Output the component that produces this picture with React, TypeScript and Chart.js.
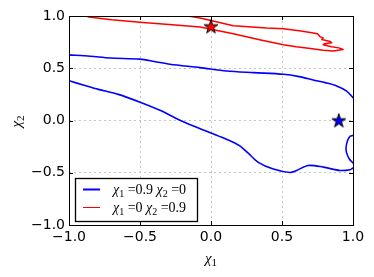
import React, { useEffect, useRef } from "react";
import { Chart, registerables } from "chart.js";

Chart.register(...registerables);

const xTickValues = [-1, -0.5, 0, 0.5, 1];
const yTickValues = [-1, -0.5, 0, 0.5, 1];

const blueUpperX = [-1, -0.85, -0.71, -0.5, -0.4, -0.289, -0.077, 0.11, 0.3, 0.51, 0.62, 0.72, 0.81, 0.885, 0.955, 1.0];
const blueUpperY = [0.628, 0.615, 0.598, 0.587, 0.565, 0.538, 0.506, 0.474, 0.458, 0.442, 0.42, 0.388, 0.36, 0.33, 0.282, 0.218];

const blueLowerX = [-1, -0.9, -0.794, -0.653, -0.49, -0.347, -0.23, -0.11, 0, 0.11, 0.2, 0.26, 0.333, 0.439, 0.556, 0.603, 0.685, 0.791, 0.908, 0.979, 1.0];
const blueLowerY = [0.38, 0.34, 0.298, 0.25, 0.17, 0.09, 0.01, -0.06, -0.12, -0.18, -0.24, -0.31, -0.4, -0.465, -0.497, -0.478, -0.43, -0.446, -0.478, -0.471, -0.455];

const blueEdgeX = [1.0, 0.979, 0.96, 0.951, 0.955, 0.974, 1.0];
const blueEdgeY = [-0.144, -0.151, -0.199, -0.263, -0.31, -0.368, -0.407];

const redX = [-0.88, -0.86, -0.7, -0.5, -0.25, -0.077, 0.157, 0.35, 0.51, 0.6, 0.7, 0.79, 0.86, 0.93, 0.9, 0.85, 0.79, 0.8, 0.85, 0.84, 0.78, 0.79, 0.77, 0.75, 0.7, 0.62, 0.51, 0.392, 0.157, -0.077, -0.16];
const redY = [1.0, 0.99, 0.965, 0.94, 0.915, 0.895, 0.83, 0.77, 0.724, 0.705, 0.69, 0.672, 0.665, 0.68, 0.695, 0.705, 0.725, 0.735, 0.745, 0.755, 0.775, 0.79, 0.8, 0.83, 0.843, 0.858, 0.878, 0.885, 0.907, 0.98, 1.0];

const blueStarX = [0.9];
const blueStarY = [0];
const redStarX = [0];
const redStarY = [0.9];

const legendLabels = ["χ1 =0.9 χ2 =0", "χ1 =0 χ2 =0.9"];
const xTitle = "χ1";
const yTitle = "χ2";

const BLUE = "#0000ff";
const RED = "#ff0000";
const SERIF = '"Liberation Serif", "DejaVu Serif", serif';

function zip(xs: number[], ys: number[]) {
  return xs.map((x, i) => ({ x, y: ys[i] }));
}

function makeStar(color: string) {
  const c = document.createElement("canvas");
  c.width = 20;
  c.height = 20;
  const g = c.getContext("2d")!;
  const R = 7.3;
  const r = R * 0.382;
  g.beginPath();
  for (let i = 0; i < 10; i++) {
    const a = -Math.PI / 2 + (i * Math.PI) / 5;
    const rad = i % 2 === 0 ? R : r;
    const px = 10 + rad * Math.cos(a);
    const py = 10.5 + rad * Math.sin(a);
    if (i === 0) g.moveTo(px, py);
    else g.lineTo(px, py);
  }
  g.closePath();
  g.fillStyle = color;
  g.fill();
  g.lineWidth = 1;
  g.strokeStyle = "#000";
  g.lineJoin = "miter";
  g.stroke();
  return c;
}

type Part = { t: string; kind: "n" | "i" | "s" };
function parseMath(text: string): Part[] {
  const parts: Part[] = [];
  for (let i = 0; i < text.length; i++) {
    const ch = text[i];
    if (ch === "χ") parts.push({ t: ch, kind: "i" });
    else if (/[0-9]/.test(ch) && text[i - 1] === "χ") parts.push({ t: ch, kind: "s" });
    else {
      const last = parts[parts.length - 1];
      if (last && last.kind === "n") last.t += ch;
      else parts.push({ t: ch, kind: "n" });
    }
  }
  return parts;
}
function fontFor(kind: string, size: number) {
  if (kind === "i") return `italic ${size}px ${SERIF}`;
  if (kind === "s") return `${Math.round(size * 0.7)}px ${SERIF}`;
  return `${size}px ${SERIF}`;
}
function measureMath(ctx: CanvasRenderingContext2D, text: string, size: number) {
  let w = 0;
  for (const p of parseMath(text)) {
    ctx.font = fontFor(p.kind, size);
    w += ctx.measureText(p.t).width;
  }
  return w;
}
function drawMath(ctx: CanvasRenderingContext2D, text: string, x: number, y: number, size: number) {
  let cx = x;
  ctx.textBaseline = "alphabetic";
  ctx.textAlign = "left";
  for (const p of parseMath(text)) {
    ctx.font = fontFor(p.kind, size);
    const dy = p.kind === "s" ? size * 0.22 : 0;
    ctx.fillText(p.t, cx, y + dy);
    cx += ctx.measureText(p.t).width;
  }
}

const decorPlugin = {
  id: "decor",
  afterDraw(chart: any) {
    const ctx: CanvasRenderingContext2D = chart.ctx;
    const { left, right, top, bottom } = chart.chartArea;
    const xs = chart.scales.x;
    const ys = chart.scales.y;
    ctx.save();
    // inward ticks
    ctx.strokeStyle = "#000";
    ctx.lineWidth = 1;
    ctx.beginPath();
    const tl = 4;
    xTickValues.forEach((v) => {
      const px = Math.round(xs.getPixelForValue(v)) + 0.5;
      ctx.moveTo(px, bottom);
      ctx.lineTo(px, bottom - tl);
      ctx.moveTo(px, top);
      ctx.lineTo(px, top + tl);
    });
    yTickValues.forEach((v) => {
      const py = Math.round(ys.getPixelForValue(v)) + 0.5;
      ctx.moveTo(left, py);
      ctx.lineTo(left + tl, py);
      ctx.moveTo(right, py);
      ctx.lineTo(right - tl, py);
    });
    ctx.stroke();
    // frame
    ctx.strokeStyle = "#000";
    ctx.lineWidth = 1;
    ctx.strokeRect(Math.round(left) + 0.5, Math.round(top) + 0.5, Math.round(right - left), Math.round(bottom - top));

    // legend
    const lx = 75.5, ly = 178.5, lw = 122, lh = 43;
    ctx.fillStyle = "#fff";
    ctx.fillRect(lx, ly, lw, lh);
    ctx.strokeStyle = "#000";
    ctx.lineWidth = 1.3;
    ctx.strokeRect(lx, ly, lw, lh);
    const rows = [
      { color: BLUE, width: 2, y: 189.5 },
      { color: RED, width: 1, y: 207.5 },
    ];
    rows.forEach((r, i) => {
      ctx.strokeStyle = r.color;
      ctx.lineWidth = r.width;
      ctx.beginPath();
      ctx.moveTo(83, r.y);
      ctx.lineTo(100, r.y);
      ctx.stroke();
      ctx.fillStyle = "#000";
      drawMath(ctx, legendLabels[i], 113, r.y + 4, 14);
    });

    // axis titles
    ctx.fillStyle = "#000";
    const tsize = 15;
    const cxm = (left + right) / 2;
    const wx = measureMath(ctx, xTitle, tsize);
    drawMath(ctx, xTitle, cxm - wx / 2, 263, tsize);
    const cym = (top + bottom) / 2;
    const wy = measureMath(ctx, yTitle, tsize);
    ctx.translate(21, cym + wy / 2 + 1);
    ctx.rotate(-Math.PI / 2);
    drawMath(ctx, yTitle, 0, 0, tsize);
    ctx.restore();
  },
};

function fmt(v: number) {
  return (v < 0 ? "\u2212" : "") + Math.abs(v).toFixed(1);
}

export default function App() {
  const ref = useRef<HTMLCanvasElement | null>(null);
  useEffect(() => {
    document.body.style.margin = "0";
    const canvas = ref.current!;
    const lineBase = {
      showLine: true,
      pointRadius: 0,
      fill: false,
      borderJoinStyle: "round" as const,
      borderCapStyle: "round" as const,
    };
    const chart = new Chart(canvas, {
      type: "scatter",
      data: {
        datasets: [
          {
            label: "blue star",
            data: zip(blueStarX, blueStarY),
            pointStyle: makeStar(BLUE) as any,
            pointRadius: 8,
            showLine: false,
            order: 0,
          },
          {
            label: "red star",
            data: zip(redStarX, redStarY),
            pointStyle: makeStar(RED) as any,
            pointRadius: 8,
            showLine: false,
            order: 0,
          },
          { ...lineBase, label: legendLabels[0], data: zip(blueUpperX, blueUpperY), borderColor: BLUE, borderWidth: 1.6, tension: 0.3, order: 1 },
          { ...lineBase, label: legendLabels[0] + " b", data: zip(blueLowerX, blueLowerY), borderColor: BLUE, borderWidth: 1.6, tension: 0.3, order: 1 },
          { ...lineBase, label: legendLabels[0] + " c", data: zip(blueEdgeX, blueEdgeY), borderColor: BLUE, borderWidth: 1.6, tension: 0.3, order: 1 },
          { ...lineBase, label: legendLabels[1], data: zip(redX, redY), borderColor: RED, borderWidth: 1.5, tension: 0, order: 1 },
        ],
      },
      options: {
        animation: false,
        responsive: false,
        events: [],
        layout: { padding: { left: 0, right: 21, top: 16, bottom: 0 } },
        plugins: { legend: { display: false }, tooltip: { enabled: false } },
        scales: {
          x: {
            type: "linear",
            min: -1,
            max: 1,
            afterBuildTicks: (s: any) => {
              s.ticks = xTickValues.map((v) => ({ value: v }));
            },
            afterFit: (s: any) => {
              s.height = 52;
            },
            ticks: {
              callback: (v: any) => fmt(Number(v)),
              color: "#000",
              font: { family: '"DejaVu Sans"', size: 14 },
              padding: 4,
              maxRotation: 0,
              autoSkip: false,
            },
            grid: { color: "#c4c4c4", lineWidth: 1, drawTicks: false },
            border: { display: false, dash: [2, 3] },
          },
          y: {
            type: "linear",
            min: -1,
            max: 1,
            afterBuildTicks: (s: any) => {
              s.ticks = yTickValues.map((v) => ({ value: v }));
            },
            afterFit: (s: any) => {
              s.width = 69;
            },
            ticks: {
              callback: (v: any) => fmt(Number(v)),
              color: "#000",
              font: { family: '"DejaVu Sans"', size: 14 },
              padding: 4,
              autoSkip: false,
            },
            grid: { color: "#c4c4c4", lineWidth: 1, drawTicks: false },
            border: { display: false, dash: [2, 3] },
          },
        },
      },
      plugins: [decorPlugin],
    });
    return () => chart.destroy();
  }, []);
  return (
    <div style={{ position: "absolute", left: 0, top: 0, width: 374, height: 277, background: "#fff" }}>
      <canvas ref={ref} width={374} height={277} style={{ display: "block", width: 374, height: 277 }} />
    </div>
  );
}
